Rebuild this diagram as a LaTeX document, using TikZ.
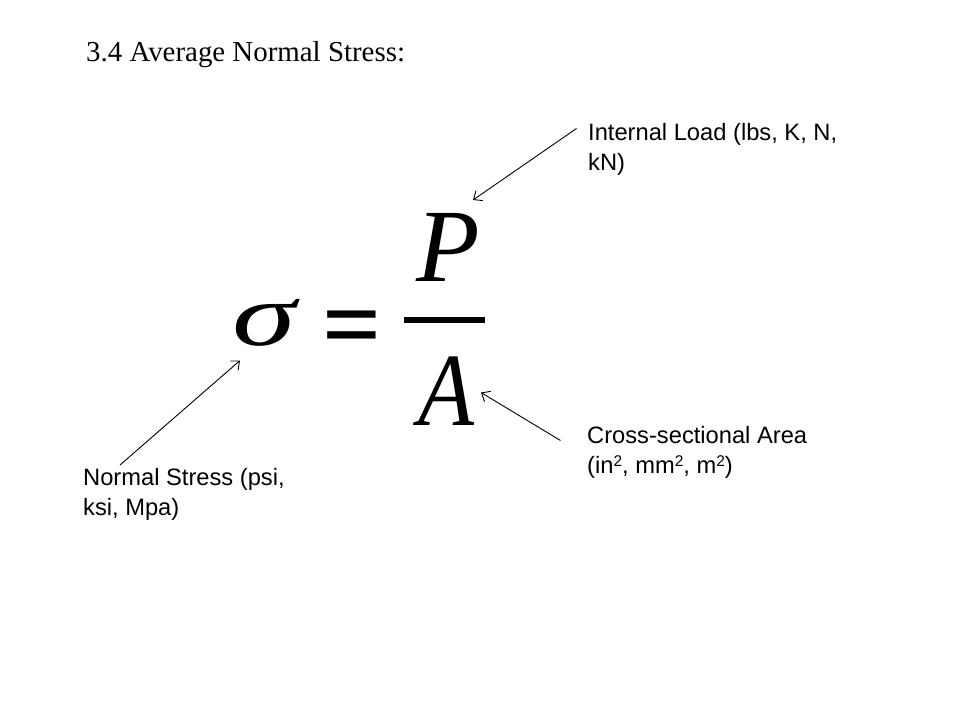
\documentclass[tikz,border=0pt]{standalone}
\usepackage{fontspec}
\setmainfont{Liberation Serif}
\newfontfamily\labelfont{Liberation Sans}
\newfontfamily\eqfont{Liberation Serif}
\usetikzlibrary{arrows.meta}
\newcommand{\suptwo}{\raisebox{6.5pt}{\fontsize{15.5}{15}\selectfont 2}}
\begin{document}
\begin{tikzpicture}[x=1pt,y=-1pt,
  lbl/.style={anchor=base west,inner sep=0pt,font=\labelfont\fontsize{23.7}{30}\selectfont},
  eqsym/.style={inner sep=0pt,font=\eqfont\fontsize{104}{110}\selectfont},
  arr/.style={-{Straight Barb[length=7pt,width=12pt]},line width=0.9pt}]
\useasboundingbox (0,0) rectangle (960,720);
\fill[white] (0,0) rectangle (960,720);
% title
\node[anchor=base west,inner sep=0pt,font=\fontsize{28.9}{34}\selectfont] (title) at (86,61) {3.4 Average Normal Stress:};
% equation
\node[eqsym,anchor=base west,transform shape,xscale=1.24,yscale=0.86] (sigma) at (232,345) {\itshape σ};
\node[eqsym,anchor=base,font=\eqfont\bfseries\fontsize{104}{110}\selectfont] (eq) at (352,359) {=};
\node[fill=black,inner sep=0pt,minimum width=81pt,minimum height=6pt] (bar) at (444.5,320) {};
\node[eqsym,anchor=base west] (P) at (416,281) {\itshape P};
\node[eqsym,anchor=base west,transform shape,xscale=0.88] (A) at (418.5,425) {\itshape A};
% labels
\node[lbl] (il) at (588,140) {\begin{tabular}[t]{@{}l@{}}Internal Load (lbs, K, N,\\kN)\end{tabular}};
\node[lbl] (csa) at (587,443) {\begin{tabular}[t]{@{}l@{}}Cross-sectional Area\\(in\suptwo, mm\suptwo, m\suptwo)\end{tabular}};
\node[lbl] (ns) at (83,485) {\begin{tabular}[t]{@{}l@{}}Normal Stress (psi,\\ksi, Mpa)\end{tabular}};
% arrow ends
\coordinate (ilS) at (576.5,128.5);
\coordinate (ilE) at (473,200);
\coordinate (csaS) at (560.5,440.5);
\coordinate (csaE) at (481,392.5);
\coordinate (nsS) at (120,465);
\coordinate (nsE) at (240,360.5);
\draw[arr] (ilS) -- (ilE);
\draw[arr] (csaS) -- (csaE);
\draw[arr] (nsS) -- (nsE);
\end{tikzpicture}
\end{document}
